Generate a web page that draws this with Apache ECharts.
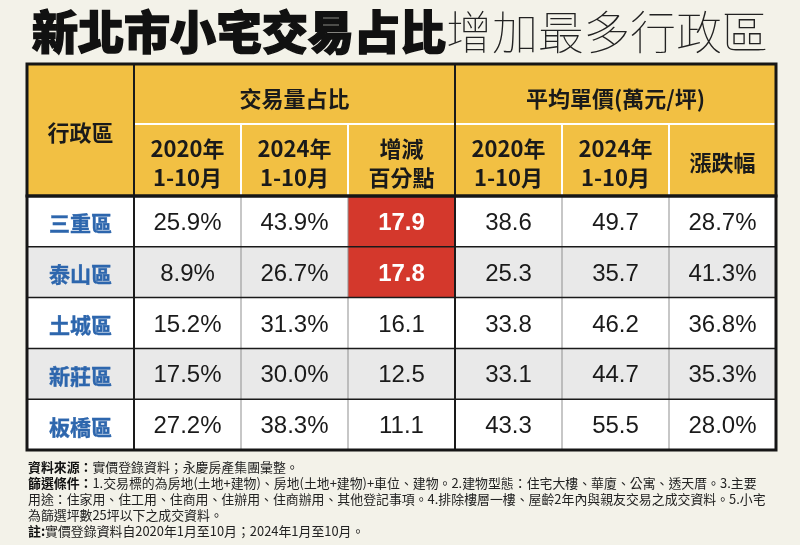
<!DOCTYPE html>
<html><head><meta charset="utf-8">
<script src="https://cdn.jsdelivr.net/npm/echarts@6/dist/echarts.min.js"></script>
<style>html,body{margin:0;padding:0;background:#f3f2e9}#c{width:800px;height:545px}</style>
</head><body><div id="c"></div>
<script>
// ---------- data ----------
const districts = ['三重區', '泰山區', '土城區', '新莊區', '板橋區'];
const share2020 = [25.9, 8.9, 15.2, 17.5, 27.2];
const share2024 = [43.9, 26.7, 31.3, 30.0, 38.3];
const shareChange = [17.9, 17.8, 16.1, 12.5, 11.1];
const price2020 = [38.6, 25.3, 33.8, 33.1, 43.3];
const price2024 = [49.7, 35.7, 46.2, 44.7, 55.5];
const priceChange = [28.7, 41.3, 36.8, 35.3, 28.0];

const columnKeys = ['district', 'share2020', 'share2024', 'shareChange', 'price2020', 'price2024', 'priceChange'];
const groupHeaders = ['行政區', '交易量占比', '平均單價(萬元/坪)'];
const subHeaders = ['2020年\n1-10月', '2024年\n1-10月', '增減\n百分點', '2020年\n1-10月', '2024年\n1-10月', '漲跌幅'];

const titleBold = '新北市小宅交易占比';
const titleThin = '增加最多行政區';
const noteSource = ['資料來源：', '實價登錄資料；永慶房產集團彙整。'];
const noteFilter = ['篩選條件：', '1.交易標的為房地(土地+建物)、房地(土地+建物)+車位、建物。2.建物型態：住宅大樓、華廈、公寓、透天厝。3.主要\n用途：住家用、住工用、住商用、住辦用、住商辦用、其他登記事項。4.排除樓層一樓、屋齡2年內與親友交易之成交資料。5.小宅\n為篩選坪數25坪以下之成交資料。'];
const noteRemark = ['註:', '實價登錄資料自2020年1月至10月；2024年1月至10月。'];

// ---------- styles ----------
const CJK = '"Noto Sans CJK TC", "Noto Sans CJK SC", sans-serif';
const CJK_THIN = '"Noto Sans CJK TC Thin", "Noto Sans CJK TC Light", "Noto Sans TC Thin", "Noto Sans CJK TC", sans-serif';
const NUM = '"Liberation Sans", Arial, sans-serif';
const YELLOW = '#f2c043';
const RED = '#d4382c';
const GRAY_ROW = '#e9e9e9';
const BLUE = '#2d66ad';
const HEADER_EDGES = [0, 60 / 132, 1];

// header cell list (column span, row span)
const headerCells = [
  { c0: 0, c1: 0, r0: 0, r1: 2, text: groupHeaders[0] },
  { c0: 1, c1: 3, r0: 0, r1: 1, text: groupHeaders[1] },
  { c0: 4, c1: 6, r0: 0, r1: 1, text: groupHeaders[2] }
].concat(subHeaders.map((t, i) => ({ c0: i + 1, c1: i + 1, r0: 1, r1: 2, text: t })));

// body cells
const columns = [null, share2020, share2024, shareChange, price2020, price2024, priceChange];
const pctCols = { 1: true, 2: true, 6: true };
const rankedChange = shareChange.map((v, i) => [v, i]).sort((a, b) => b[0] - a[0]);
const highlighted = new Set(rankedChange.slice(0, 2).map(d => d[1]));
const bodyCells = [];
districts.forEach((d, r) => {
  for (let c = 0; c < columnKeys.length; c++) {
    const text = c === 0 ? d : columns[c][r].toFixed(1) + (pctCols[c] ? '%' : '');
    bodyCells.push({ c, r, text, hl: c === 3 && highlighted.has(r) });
  }
});

function txt(text, x, y, font, fill, lineHeight, extra) {
  return {
    type: 'text', z2: 20,
    style: Object.assign({ text, x, y, font, fill, align: 'center', verticalAlign: 'middle',
             textAlign: 'center', textVerticalAlign: 'middle', lineHeight: lineHeight || undefined }, extra || {})
  };
}
function line(x1, y1, x2, y2, stroke, lw, z2) {
  return { type: 'line', z2: z2 || 10, shape: { x1, y1, x2, y2 }, style: { stroke, lineWidth: lw } };
}

function headerItem(params, api) {
  const h = headerCells[params.dataIndex];
  const bw = api.size([1, 0])[0];
  const xL = api.coord([h.c0, 0])[0] - bw / 2;
  const xR = api.coord([h.c1, 0])[0] + bw / 2;
  const yT = api.coord([0, HEADER_EDGES[h.r0]])[1];
  const yB = api.coord([0, HEADER_EDGES[h.r1]])[1];
  const ch = [{ type: 'rect', shape: { x: xL, y: yT, width: xR - xL, height: yB - yT }, style: { fill: YELLOW } }];
  const off = h.r1 - h.r0 === 2 ? 3 : (h.r0 === 0 ? 5 : 3);
  ch.push(txt(h.text, (xL + xR) / 2, (yT + yB) / 2 + off, 'bold 22px ' + CJK, '#1a1a1a', 29));
  if (h.r0 === 0 && h.c0 >= 1) ch.push(line(xL, yB, xR, yB, '#ffffff', 2));
  if (h.r0 === 1 && h.c0 !== 1 && h.c0 !== 4) ch.push(line(xL, yT, xL, yB, '#ffffff', 2));
  if (h.c0 === 1 || h.c0 === 4) ch.push(line(xL, yT, xL, yB, '#1a1a1a', 2, 12));
  return { type: 'group', children: ch };
}

function bodyItem(params, api) {
  const b = bodyCells[params.dataIndex];
  const [cx, cy] = api.coord([b.c, b.r]);
  const sz = api.size([1, 1]);
  const xL = cx - sz[0] / 2, xR = cx + sz[0] / 2, yT = cy - sz[1] / 2, yB = cy + sz[1] / 2;
  const fill = b.hl ? RED : (b.r % 2 === 1 ? GRAY_ROW : '#ffffff');
  const ch = [{ type: 'rect', shape: { x: xL, y: yT, width: xR - xL, height: yB - yT }, style: { fill } }];
  let font, color, extra;
  if (b.c === 0) { font = 'bold 21px ' + CJK; color = BLUE; extra = { stroke: BLUE, lineWidth: 0.4 }; }
  else if (b.hl) { font = 'bold 24px ' + NUM; color = '#ffffff'; }
  else { font = '24px ' + NUM; color = '#1a1a1a'; }
  ch.push(txt(b.text, cx, cy + 2, font, color, 0, extra));
  if (b.r < districts.length - 1) ch.push(line(xL, yB, xR, yB, '#1a1a1a', 1.5, 11));
  if (b.c < columnKeys.length - 1) {
    const strong = b.c === 0 || b.c === 3;
    ch.push(line(xR, yT, xR, yB, strong ? '#1a1a1a' : '#8f8f8f', strong ? 2 : 1, strong ? 12 : 10));
  }
  return { type: 'group', children: ch };
}

const hiddenAxis = { axisLine: { show: false }, axisTick: { show: false }, axisLabel: { show: false }, splitLine: { show: false } };

const chart = echarts.init(document.getElementById('c'), null, { renderer: 'canvas' });
chart.setOption({
  backgroundColor: '#f3f2e9',
  animation: false,
  title: [{
    text: '{b|' + titleBold + '}{t|' + titleThin + '}',
    left: 32, top: 8, padding: 0,
    textStyle: { rich: {
      b: { fontSize: 46, fontWeight: 900, fontFamily: CJK, color: '#111', textBorderColor: '#111', textBorderWidth: 1.4, lineHeight: 48 },
      t: { fontSize: 46, fontWeight: 100, fontFamily: CJK_THIN, color: '#222', lineHeight: 48 }
    } }
  }, {
    text: '{b|' + noteSource[0] + '}{n|' + noteSource[1] + '}\n{b|' + noteFilter[0] + '}{n|' + noteFilter[1] + '}\n{b|' + noteRemark[0] + '}{n|' + noteRemark[1] + '}',
    left: 28, top: 459, padding: 0,
    textStyle: { rich: {
      b: { fontSize: 12.9, fontWeight: 'bold', fontFamily: CJK, color: '#111', lineHeight: 16 },
      n: { fontSize: 12.9, fontWeight: 'normal', fontFamily: CJK, color: '#222', lineHeight: 16 }
    } }
  }],
  grid: [
    { left: 27, width: 749, top: 64, height: 132, show: true, borderColor: '#161616', borderWidth: 3, backgroundColor: 'transparent', z: 10 },
    { left: 27, width: 749, top: 196, height: 254, show: true, borderColor: '#161616', borderWidth: 3, backgroundColor: 'transparent', z: 10 }
  ],
  xAxis: [
    Object.assign({ type: 'category', data: columnKeys, gridIndex: 0 }, hiddenAxis),
    Object.assign({ type: 'category', data: columnKeys, gridIndex: 1 }, hiddenAxis)
  ],
  yAxis: [
    Object.assign({ type: 'value', min: 0, max: 1, inverse: true, gridIndex: 0 }, hiddenAxis),
    Object.assign({ type: 'category', data: districts, inverse: true, gridIndex: 1 }, hiddenAxis)
  ],
  series: [
    { type: 'custom', xAxisIndex: 0, yAxisIndex: 0, renderItem: headerItem, encode: { x: 0, y: 1 },
      data: headerCells.map(h => [h.c0, HEADER_EDGES[h.r0]]), clip: false },
    { type: 'custom', xAxisIndex: 1, yAxisIndex: 1, renderItem: bodyItem, encode: { x: 0, y: 1 },
      data: bodyCells.map(b => [b.c, b.r]), clip: false }
  ]
});
</script></body></html>
